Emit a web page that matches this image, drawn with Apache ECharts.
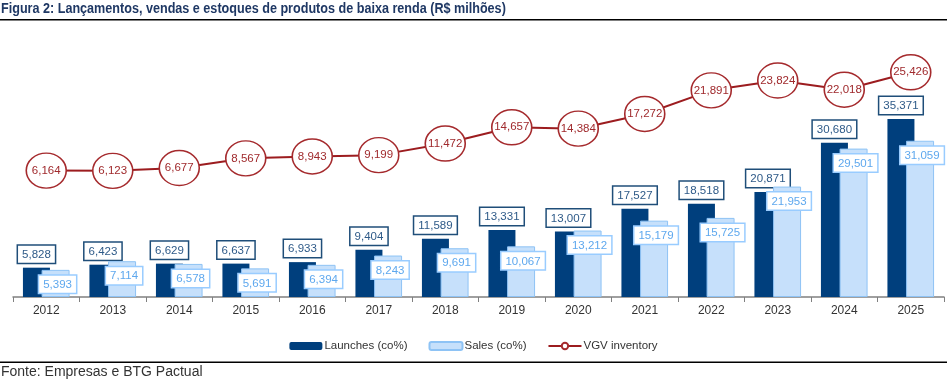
<!DOCTYPE html>
<html>
<head>
<meta charset="utf-8">
<script src="https://cdn.jsdelivr.net/npm/echarts@6/dist/echarts.min.js"></script>
<style>
html,body{margin:0;padding:0;background:#fff;}
#chart{width:947px;height:382px;}
</style>
</head>
<body>
<div id="chart"></div>
<script>
var years = ['2012','2013','2014','2015','2016','2017','2018','2019','2020','2021','2022','2023','2024','2025'];
var launches = [5828, 6423, 6629, 6637, 6933, 9404, 11589, 13331, 13007, 17527, 18518, 20871, 30680, 35371];
var sales = [5393, 7114, 6578, 5691, 6394, 8243, 9691, 10067, 13212, 15179, 15725, 21953, 29501, 31059];
var vgvInventory = [6164, 6123, 6677, 8567, 8943, 9199, 11472, 14657, 14384, 17272, 21891, 23824, 22018, 25426];

var fmt = function (v) { return v.toLocaleString('en-US'); };
var FONT = 'Liberation Sans, Arial, sans-serif';

var chart = echarts.init(document.getElementById('chart'));
chart.setOption({
  animation: false,
  textStyle: { fontFamily: FONT },
  graphic: [
    { type: 'text', x: 1, y: 2, scaleX: 0.9, style: { text: 'Figura 2: Lançamentos, vendas e estoques de produtos de baixa renda (R$ milhões)', font: 'bold 14px ' + FONT, fill: '#1F3864' } },
    { type: 'rect', shape: { x: 0, y: 19, width: 947, height: 1.5 }, style: { fill: '#000' } },
    { type: 'rect', shape: { x: 0, y: 361.5, width: 947, height: 1.5 }, style: { fill: '#000' } },
    { type: 'text', x: 1, y: 365, style: { text: 'Fonte: Empresas e BTG Pactual', font: '14px ' + FONT, fill: '#333' } }
  ],
  legend: {
    top: 335, left: 'center',
    itemWidth: 33, itemHeight: 8, itemGap: 21,
    textStyle: { fontSize: 11.5, color: '#333', fontFamily: FONT, padding: [0, 0, 0, -3] },
    data: [
      { name: 'Launches (co%)' },
      { name: 'Sales (co%)' },
      { name: 'VGV inventory' }
    ]
  },
  grid: { left: 13, right: 3, top: 50, bottom: 85 },
  xAxis: {
    type: 'category', data: years,
    axisLine: { lineStyle: { color: '#808080', width: 1.5 } },
    axisTick: { show: true, length: 5, lineStyle: { color: '#808080' } },
    axisLabel: { color: '#333', fontSize: 12, margin: 8, fontFamily: FONT }
  },
  yAxis: [
    { type: 'value', min: 0, max: 49100, show: false, splitLine: { show: false } },
    { type: 'value', min: -18600, max: 29800, show: false, splitLine: { show: false } }
  ],
  series: [
    {
      name: 'Launches (co%)', type: 'bar', data: launches, barWidth: 27, barGap: '-31%',
      itemStyle: { color: '#003F7D' },
      label: {
        show: true, position: 'top', distance: 5, formatter: function (p) { return fmt(p.value); },
        color: '#2E5A88', fontSize: 11.5, fontFamily: FONT,
        backgroundColor: '#fff', borderColor: '#1F4E79', borderWidth: 1.5, padding: [3, 4, 2, 4]
      },
      z: 2
    },
    {
      name: 'Sales (co%)', type: 'bar', data: sales, barWidth: 28,
      itemStyle: { color: '#C6E0FB', borderColor: '#8EC3F5', borderWidth: 1 },
      label: {
        show: true, position: 'insideTop', distance: 6, offset: [2, 0], formatter: function (p) { return fmt(p.value); },
        color: '#5EA8EE', fontSize: 11.5, fontFamily: FONT,
        backgroundColor: '#fff', borderColor: '#99CCFF', borderWidth: 1.5, padding: [3, 4, 2, 4]
      },
      z: 3
    },
    {
      name: 'VGV inventory', type: 'line', yAxisIndex: 1, data: vgvInventory,
      symbol: 'circle', symbolSize: [40, 35],
      lineStyle: { color: '#9C1C1F', width: 2 },
      itemStyle: { color: '#fff', borderColor: '#A52A2D', borderWidth: 1.5 },
      label: {
        show: true, position: 'inside', formatter: function (p) { return fmt(p.value); },
        color: '#A02A2D', fontSize: 11.5, fontFamily: FONT
      },
      z: 5
    }
  ]
});
</script>
</body>
</html>
